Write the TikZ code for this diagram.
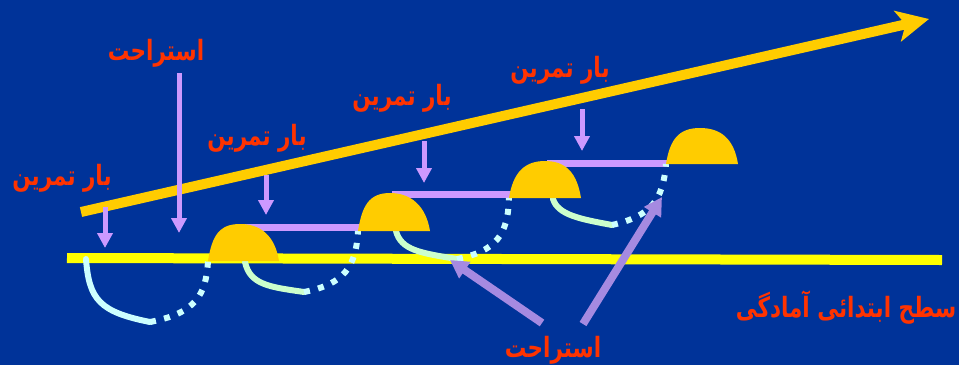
\documentclass[tikz,border=0pt]{standalone}
\usepackage{fontspec}
\usetikzlibrary{arrows.meta}
\TeXXeTstate=1
\newfontfamily\arabicfont[Script=Arabic]{DejaVu Sans}
\definecolor{bgblue}{RGB}{0,51,153}
\definecolor{gold}{RGB}{255,204,0}
\definecolor{brightyellow}{RGB}{255,255,0}
\definecolor{lilac}{RGB}{204,153,255}
\definecolor{bigpurple}{RGB}{165,138,225}
\definecolor{paleCyan}{RGB}{204,255,255}
\definecolor{paleGreen}{RGB}{204,255,204}
\definecolor{labelred}{RGB}{255,51,0}
\newcommand{\arlbl}[1]{\scalebox{1}[1.3]{\beginR #1\endR}}
\tikzset{
  lbl/.style={text=labelred, font=\arabicfont\bfseries\fontsize{21.5}{24}\selectfont, inner sep=0pt},
  hump/.style={fill=gold, draw=none},
  smallarrow/.style={draw=lilac, line width=5pt, -{Triangle[length=15pt,width=15pt]}},
  bigarrow/.style={draw=bigpurple, line width=8pt, -{Triangle[length=18pt,width=19pt]}},
  link/.style={draw=lilac, line width=7pt},
  solidrec/.style={line width=6pt, line cap=round},
  dotrec/.style={draw=paleCyan, line width=6pt, dash pattern=on 6pt off 8.5pt},
}
\begin{document}
\begin{tikzpicture}[x=1pt,y=-1pt]
\fill[bgblue] (0,0) rectangle (959,365);
\useasboundingbox (0,0) rectangle (959,365);

% coordinates
\coordinate (asc0) at (81,212);
\coordinate (asc1) at (929,19);
\coordinate (base0) at (67,258);
\coordinate (base1) at (942,260);

\coordinate (h1l) at (208,261); \coordinate (h1t) at (240,224); \coordinate (h1r) at (279,261);
\coordinate (h2l) at (358,231); \coordinate (h2t) at (390,193); \coordinate (h2r) at (430,231);
\coordinate (h3l) at (509,198); \coordinate (h3t) at (545,161); \coordinate (h3r) at (581,198);
\coordinate (h4l) at (666,164); \coordinate (h4t) at (700,128); \coordinate (h4r) at (738,164);

% purple links between humps
\draw[link] (240,227.5) -- (362,227.5);
\draw[link] (392,194.5) -- (512,194.5);
\draw[link] (547,163) -- (668,163);

% baseline
\draw[brightyellow, line width=10pt] (base0) -- (base1);

% recovery curves
\coordinate (c1a) at (86,259); \coordinate (c1b) at (150,322);
\draw[solidrec, paleCyan] (c1a) .. controls (89,300) and (100,312) .. (c1b);
\draw[dotrec] (c1b) .. controls (196,313) and (206,295) .. (h1l);

\coordinate (c2a) at (245,262); \coordinate (c2b) at (304,292);
\draw[solidrec, paleGreen] (c2a) .. controls (250,285) and (270,287) .. (c2b);
\draw[dotrec] (c2b) .. controls (345,284) and (356,266) .. (h2l);

\coordinate (c3a) at (396,231); \coordinate (c3b) at (457,259);
\draw[solidrec, paleGreen] (c3a) .. controls (401,250) and (420,253) .. (c3b);
\draw[dotrec] (c3b) .. controls (496,251) and (508,235) .. (h3l);

\coordinate (c4a) at (553,199); \coordinate (c4b) at (612,225);
\draw[solidrec, paleGreen] (c4a) .. controls (558,215) and (580,219) .. (c4b);
\draw[dotrec] (c4b) .. controls (651,216) and (663,200) .. (h4l);

% humps
\foreach \h in {h1,h2,h3,h4}{
  \fill[hump] (\h l) .. controls +(4,-25) and +(-21,0) .. (\h t)
              .. controls +(21,0) and +(-4,-25) .. (\h r) -- cycle;
}

% ascending load arrow
\draw[gold, line width=10pt, -{Stealth[length=32pt,width=31pt,inset=8pt]}] (asc0) -- (asc1);

% small arrows
\coordinate (a1s) at (105,207); \coordinate (a1e) at (105,248);
\coordinate (a2s) at (179,73);  \coordinate (a2e) at (179,233);
\coordinate (a3s) at (266,175); \coordinate (a3e) at (266,215);
\coordinate (a4s) at (424,141); \coordinate (a4e) at (424,183);
\coordinate (a5s) at (582,109); \coordinate (a5e) at (582,151);
\draw[smallarrow] (a1s) -- (a1e);
\draw[smallarrow] (a2s) -- (a2e);
\draw[smallarrow] (a3s) -- (a3e);
\draw[smallarrow] (a4s) -- (a4e);
\draw[smallarrow] (a5s) -- (a5e);

% big rest arrows
\coordinate (b1s) at (542,323); \coordinate (b1e) at (450,260);
\coordinate (b2s) at (583,324); \coordinate (b2e) at (662,197);
\draw[bigarrow] (b1s) -- (b1e);
\draw[bigarrow] (b2s) -- (b2e);

% labels
\node[lbl] (load1) at (62,178) {\arlbl{بار تمرین}};
\node[lbl] (rest1) at (156,53) {\arlbl{استراحت}};
\node[lbl] (load2) at (257,138) {\arlbl{بار تمرین}};
\node[lbl] (load3) at (402,98) {\arlbl{بار تمرین}};
\node[lbl] (load4) at (560,70) {\arlbl{بار تمرین}};
\node[lbl] (rest2) at (553,350) {\arlbl{استراحت}};
\node[lbl] (level) at (846,308) {\arlbl{سطح ابتدائی آمادگی}};
\end{tikzpicture}
\end{document}
